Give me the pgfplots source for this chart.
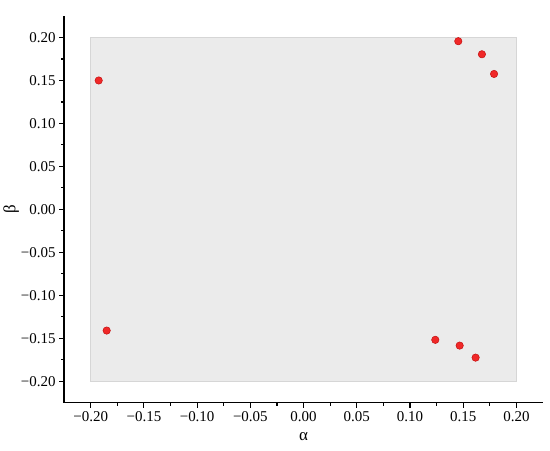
\documentclass[border=0pt]{standalone}
\usepackage{pgfplots}
\pgfplotsset{compat=1.18}
\usepackage{fontspec}
\setmainfont{Liberation Serif}
\definecolor{boxfill}{HTML}{EBEBEB}
\definecolor{boxedge}{HTML}{D6D6D6}
\definecolor{ptfill}{HTML}{F02828}
\definecolor{ptedge}{HTML}{C41010}
\begin{document}
\begin{tikzpicture}
\begin{axis}[
  scale only axis,
  width=478bp, height=386bp,
  xmin=-0.225, xmax=0.225, ymin=-0.225, ymax=0.225,
  axis x line*=bottom, axis y line*=left,
  axis line style={line width=1.3bp, -},
  tick align=outside,
  major tick length=5bp, minor tick length=3bp,
  every tick/.style={black, line width=1.1bp},
  xtick={-0.2,-0.15,-0.1,-0.05,0,0.05,0.1,0.15,0.2},
  ytick={-0.2,-0.15,-0.1,-0.05,0,0.05,0.1,0.15,0.2},
  xticklabels={−0.20,−0.15,−0.10,−0.05,0.00,0.05,0.10,0.15,0.20},
  yticklabels={−0.20,−0.15,−0.10,−0.05,0.00,0.05,0.10,0.15,0.20},
  minor tick num=1,
  tick label style={font=\fontsize{15}{18}\selectfont},
  xlabel={α}, ylabel={β},
  label style={font=\fontsize{17}{20}\selectfont},
  xlabel style={yshift=-4bp},
  ylabel style={yshift=-5bp},
  clip=false,
]
\addplot[fill=boxfill, draw=boxedge, line width=0.6bp] coordinates {(-0.2,-0.2) (0.2,-0.2) (0.2,0.2) (-0.2,0.2)} -- cycle;
\addplot[only marks, mark=*, mark size=3.7bp, mark options={fill=ptfill, draw=ptedge, line width=0.5bp}] coordinates {
(-0.1925,0.150)
(-0.185,-0.141)
(0.1454,0.1957)
(0.1676,0.1805)
(0.179,0.1576)
(0.1238,-0.1518)
(0.1467,-0.1585)
(0.1617,-0.1725)
};
\end{axis}
\path ([shift={(-64bp,-48bp)}]current axis.south west) rectangle ([shift={(7bp,16bp)}]current axis.north east);
\end{tikzpicture}
\end{document}
